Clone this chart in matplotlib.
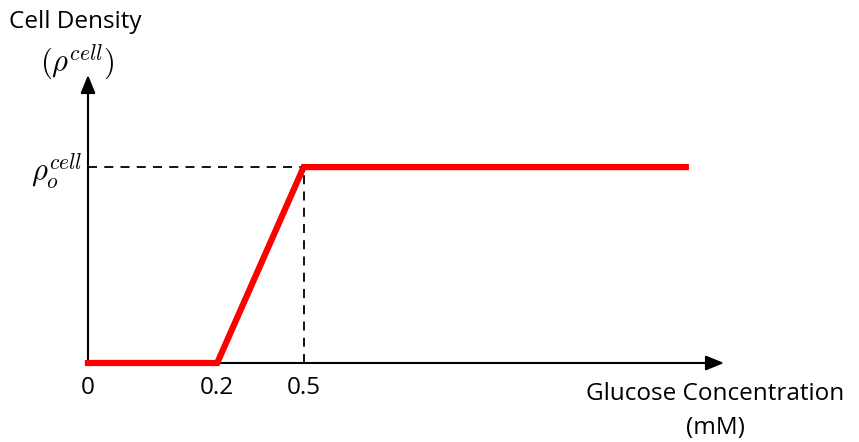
import numpy as np
import matplotlib
matplotlib.use('Agg')
from matplotlib import pyplot as plt

# schematic data
x_pts = [0, 0.2, 0.5, 1.5]
y_pts = [0, 0, 1, 1]
x_ticks = [0, 0.2, 0.5]
x_tick_labels = ['0', '0.2', '0.5']
rho_o = 1

# the schematic axis is not to scale: piecewise-linear mapping
knots = [0, 0.2, 0.5, 1.6]
pix = [0, 130, 217, 640]


def fwd(v):
    return np.interp(v, knots, pix)


def inv(v):
    return np.interp(v, pix, knots)


plt.rcParams['font.family'] = ['Open Sans', 'DejaVu Sans']
plt.rcParams['mathtext.fontset'] = 'cm'

fig = plt.figure(figsize=(8.59, 4.42), dpi=100)
ax = fig.add_axes([88 / 859, (442 - 363) / 442, 636 / 859, 288 / 442])
ax.set_xscale('function', functions=(fwd, inv))
ax.set_xlim(0, 1.6)
ax.set_ylim(0, 1.47)
for s in ax.spines.values():
    s.set_visible(False)
ax.set_xticks([])
ax.set_yticks([])

# axes with arrows
arrow = dict(arrowstyle='-|>,head_length=1.1,head_width=0.45', color='black', lw=1.5,
             shrinkA=0, shrinkB=0)
ax.annotate('', xy=(1, 0), xytext=(0, 0), xycoords='axes fraction',
            arrowprops=arrow, annotation_clip=False)
ax.annotate('', xy=(0, 1), xytext=(0, 0), xycoords='axes fraction',
            arrowprops=arrow, annotation_clip=False)

# dashed guides
ax.plot([0, x_ticks[2]], [rho_o, rho_o], ls=(0, (5, 4)), color='black', lw=1.3, clip_on=False)
ax.plot([x_ticks[2], x_ticks[2]], [0, rho_o], ls=(0, (5, 4)), color='black', lw=1.3, clip_on=False)

ax.plot(x_pts, y_pts, color='#ff0000', lw=4.5, solid_joinstyle='miter', clip_on=False, zorder=5)

for xt, lab in zip(x_ticks, x_tick_labels):
    ax.text(xt, -0.065, lab, ha='center', va='top', fontsize=17.5)

fig.text(75 / 859, 1 - 22 / 442, 'Cell Density', ha='center', va='center', fontsize=17.5)
fig.text(77 / 859, 1 - 62 / 442, r'$(\rho^{cell})$', ha='center', va='center', fontsize=22)
fig.text(82 / 859, 1 - 172 / 442, r'$\rho_o^{cell}$', ha='right', va='center', fontsize=22)
fig.text(715 / 859, 1 - 394 / 442, 'Glucose Concentration', ha='center', va='center', fontsize=17.5)
fig.text(715 / 859, 1 - 428 / 442, '(mM)', ha='center', va='center', fontsize=17.5)

fig.savefig('out.png', dpi=100)
